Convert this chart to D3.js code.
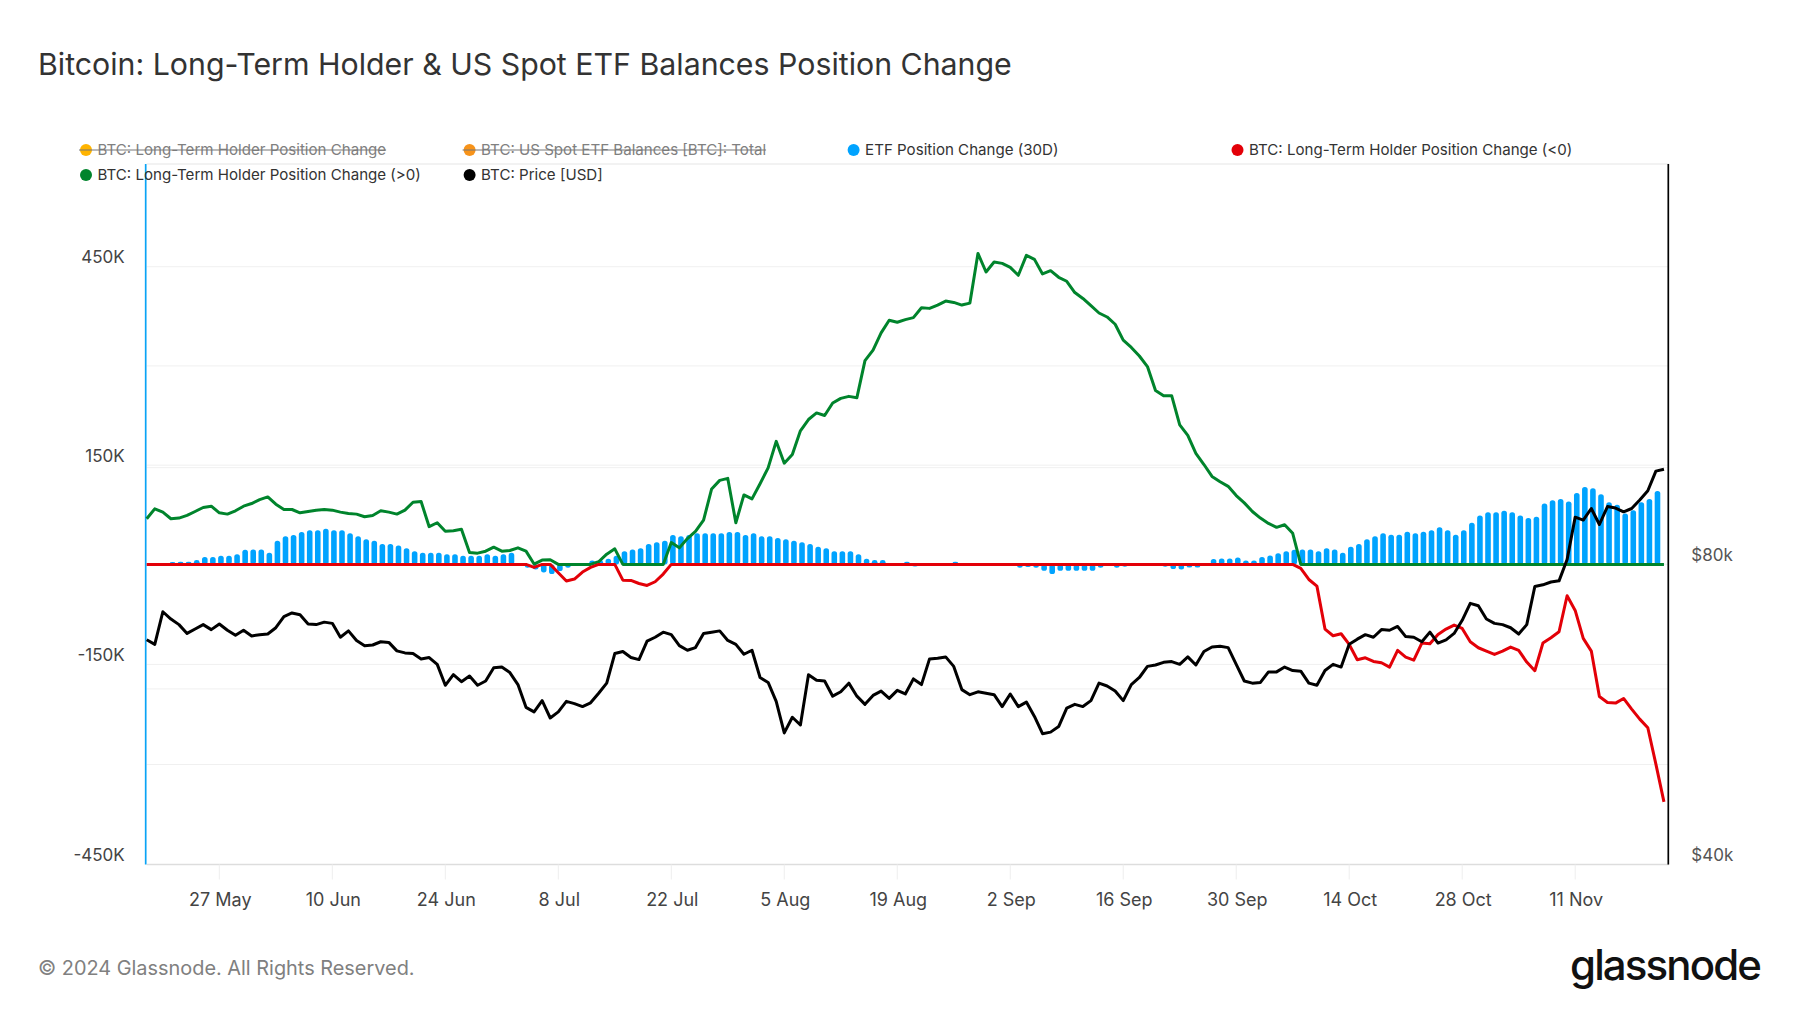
<!DOCTYPE html>
<html>
<head>
<meta charset="utf-8">
<script src="https://cdn.jsdelivr.net/npm/d3@7"></script>
<style>
body { margin: 0; background: #fff; font-family: Inter, sans-serif; }
</style>
</head>
<body>
<div id="chart"></div>
<script>
// one value per day from 18 May, thousands of BTC
var ltsPositive = [
	69,84,79,69,70,74,80,86,88,78,
	76,81,88,92,98,102,91,83,83,78,
	80,82,83,82,79,77,76,72,74,81,
	79,76,82,94,95,57,63,50,51,53,
	18,17,20,26,20,21,25,20,0.5,6.5,
	7,0,0,0,0,0,4,15.5,23.5,0,
	0,0,0,0,0,33,25,39,50,67,
	114,127,130,63,105,99,122,146,186,153,
	166,202,219,229,225,244,251,254,252,308,
	324,350,369,366,370,373,388,387,392,398,
	396,392,395,470,442,457,455,449,437,467,
	461,439,444,434,428,411,402,391,380,374,
	363,339,328,315,299,263,255,255,211,195,
	168,151,133,125,118,104,93,80,70,62,
	56,60,47,0,0,0,0,0,0,0,
	0,0,0,0,0,0,0,0,0,0,
	0,0,0,0,0,0,0,0,0,0,
	0,0,0,0,0,0,0,0,0,0,
	0,0,0,0,0,0,0,0,0
];

var ltsNegative = [
	0,0,0,0,0,0,0,0,0,0,
	0,0,0,0,0,0,0,0,0,0,
	0,0,0,0,0,0,0,0,0,0,
	0,0,0,0,0,0,0,0,0,0,
	0,0,0,0,0,0,0,0,-4.5,0,
	0,-12.5,-25,-22,-11.5,-4.5,0,0,0,-23.6,
	-24,-28.6,-31.6,-26,-14.5,0,0,0,0,0,
	0,0,0,0,0,0,0,0,0,0,
	0,0,0,0,0,0,0,0,0,0,
	0,0,0,0,0,0,0,0,0,0,
	0,0,0,0,0,0,0,0,0,0,
	0,0,0,0,0,0,0,0,0,0,
	0,0,0,0,0,0,0,0,0,0,
	0,0,0,0,0,0,0,0,0,0,
	0,0,0,-6,-22.6,-32.6,-97,-107,-104,-120,
	-143,-140,-145.5,-147.5,-154,-129,-139,-143.5,-118,-119,
	-105,-97,-91,-96,-116,-125,-130,-135,-130,-124,
	-129,-146.5,-159.5,-118,-110,-101,-47,-69,-111,-130,
	-198,-207,-208,-201,-217,-232,-245,-299.5,-356
];

var etfChange = [
	0,0,0,3.5,4,4,6.5,11,11,13,
	13,15.5,22,22.5,22.5,17.5,35.6,42.6,44.6,49,
	51.7,51.7,53.7,51.7,51.7,47,42.6,38,35.6,31,
	31,28.6,24.6,20,17.5,17.5,17.5,15.5,15.5,13,
	13,13,15.5,13,15.5,17.5,0,-5,-7.5,-12,
	-14.5,-10,-5,-2.5,0,6,6.5,8.5,13,20,
	22.5,24.6,31,33.6,35.6,44.6,42.6,44.6,47,47,
	47,47,49,49,44.6,47,42.6,42.6,40,38,
	35.6,33.6,31,26.6,24.6,20,20,20,15.5,8.5,
	6.5,6.5,2,2,4,-3,0,2,2,0,
	4,1,0,0,0,-2.5,0,0,-5,-4,
	-5,-9.5,-14.5,-9.5,-9.5,-9.5,-9.5,-9.5,-5,-2.5,
	-5,-3.5,-1.5,-1.5,0,-2.5,-3.5,-7,-7.5,-4.5,
	-4.5,0,8,9,9,10.5,6,6,11,13.5,
	17,20,22,22.5,22.5,20,24.5,22.5,17.5,26.5,
	31,38,42.5,47,45,45,49.5,47,49.5,51.5,
	56,51.5,45,51.5,63,74,79,79,81,79,
	74,70,72,92,97,99,95,108,117,115,
	106,94,90,77,82,94,99,111,0
];

// thousands of USD
var btcPrice = [
	67.2,66.5,71.7,70.5,69.6,68.2,68.9,69.6,68.8,69.7,
	68.7,67.9,68.7,67.8,68.0,68.1,69.1,70.9,71.5,71.2,
	69.7,69.6,70.0,69.8,67.6,68.6,67.1,66.3,66.4,66.9,
	66.8,65.5,65.2,65.1,64.3,64.5,63.5,60.5,62.0,61.0,
	61.8,60.5,61.1,63.0,63.1,62.3,60.6,57.5,56.9,58.4,
	56.1,56.9,58.3,58.0,57.6,58.1,59.4,60.8,65.1,65.4,
	64.5,64.2,67.0,67.6,68.4,68.0,66.3,65.6,66.0,68.2,
	68.4,68.6,67.1,66.5,65.0,65.6,61.6,60.9,58.3,54.2,
	56.2,55.2,62.0,61.2,61.1,59.0,59.6,60.8,59.0,57.9,
	59.1,59.7,58.7,59.8,59.3,61.4,60.6,64.3,64.4,64.6,
	63.2,59.9,59.2,59.6,59.4,59.2,57.6,59.3,57.6,58.2,
	56.3,54.1,54.3,55.0,57.4,57.9,57.6,58.4,60.8,60.4,
	59.7,58.4,60.6,61.6,63.2,63.4,63.8,63.9,63.5,64.6,
	63.4,65.4,66.1,66.2,66.0,63.5,61.1,60.8,60.9,62.4,
	62.4,63.1,62.6,62.5,60.8,60.5,62.6,63.5,63.1,66.5,
	67.3,68.0,67.6,68.8,68.7,69.3,67.7,67.6,66.9,68.4,
	66.7,67.2,68.2,70.3,73.1,72.7,70.5,69.8,69.6,69.1,
	68.1,69.6,76.0,76.3,76.8,77.0,80.9,89.2,88.6,91.0,
	87.7,91.4,91.1,90.3,91.0,92.8,94.8,99.2,99.65
];

var xTickDates = ["2024-05-27","2024-06-10","2024-06-24","2024-07-08","2024-07-22","2024-08-05","2024-08-19","2024-09-02","2024-09-16","2024-09-30","2024-10-14","2024-10-28","2024-11-11"];
var xTickLabels = ["27 May","10 Jun","24 Jun","8 Jul","22 Jul","5 Aug","19 Aug","2 Sep","16 Sep","30 Sep","14 Oct","28 Oct","11 Nov"];
var leftGrid = [450,300,150,-150,-300];
var leftLabels = [450,150,-150,-450];
var rightGrid = [60,80,100];
var rightLabels = [40,80];

var legendNames = ["BTC: Long-Term Holder Position Change","BTC: US Spot ETF Balances [BTC]: Total","ETF Position Change (30D)","BTC: Long-Term Holder Position Change (<0)","BTC: Long-Term Holder Position Change (>0)","BTC: Price [USD]"];
var legendColors = ["#ffb400","#f7931a","#00a3ff","#e30008","#00842c","#000000"];
var legendOff = [true,true,false,false,false,false];

var width = 1800;
var height = 1013;
var margin = {left: 146.7, right: 1669, top: 164, bottom: 864.5};
var legendX = [86,469.6,853.6,1237.5];
var legendY = [150,175];

var startDate = new Date(Date.UTC(2024,4,18));
var dates = d3.utcDay.range(startDate, new Date(Date.UTC(2024,10,23)));

var x = d3.scaleUtc()
	.domain([startDate, new Date(Date.UTC(2024,10,22,15))])
	.range([margin.left, margin.right]);

// the zero line sits a touch above the middle of the gridlines, so three stops
var y = d3.scaleLinear()
	.domain([-450,0,450,604.6])
	.range([margin.bottom,564.4,266.7,margin.top]);

var yPrice = d3.scaleLog()
	.domain([40,201.6])
	.range([margin.bottom,margin.top]);

var svg = d3.select("#chart")
	.append("svg")
	.attr("width", width)
	.attr("height", height)
	.style("display", "block");

svg.append("text")
	.attr("x", 38)
	.attr("y", 75)
	.attr("font-size", 30.3)
	.attr("fill", "#333")
	.text("Bitcoin: Long-Term Holder & US Spot ETF Balances Position Change");

// gridlines
svg.append("g").selectAll("line")
	.data(leftGrid)
	.join("line")
	.attr("x1", margin.left).attr("x2", margin.right)
	.attr("y1", function(d) { return y(d); })
	.attr("y2", function(d) { return y(d); })
	.attr("stroke", "#f0f0f0");

svg.append("g").selectAll("line")
	.data(rightGrid)
	.join("line")
	.attr("x1", margin.left).attr("x2", margin.right)
	.attr("y1", function(d) { return yPrice(d); })
	.attr("y2", function(d) { return yPrice(d); })
	.attr("stroke", "#f0f0f0");

svg.append("line")
	.attr("x1", margin.left).attr("x2", margin.right)
	.attr("y1", margin.top).attr("y2", margin.top)
	.attr("stroke", "#eee")
	.attr("stroke-width", 1.5);

// axes
var xAxis = d3.axisBottom(x)
	.tickValues(xTickDates.map(function(d) { return new Date(d + "T00:00:00Z"); }))
	.offset(0)
	.tickSizeInner(15)
	.tickSizeOuter(0)
	.tickPadding(13.5)
	.tickFormat(function(d, i) { return xTickLabels[i]; });

var xG = svg.append("g")
	.attr("transform", "translate(0," + margin.bottom + ")")
	.call(xAxis);
xG.select(".domain").attr("stroke", "#ddd").attr("stroke-width", 1.5);
xG.selectAll(".tick line").attr("stroke", "#eee");
xG.selectAll(".tick text").attr("font-size", 18).attr("font-family", "Inter").attr("fill", "#444").attr("dx", 1);

var leftG = svg.append("g")
	.attr("transform", "translate(" + (margin.left - 1) + ",0)")
	.call(d3.axisLeft(y).tickValues(leftLabels).offset(0).tickSize(0).tickPadding(21)
		.tickFormat(function(d) { return d + "K"; }));
leftG.select(".domain").attr("stroke", "#0aa3f5").attr("stroke-width", 1.7);
leftG.selectAll(".tick text").attr("font-size", 17).attr("font-family", "Inter").attr("fill", "#444").attr("dy", "-0.19em");

var rightG = svg.append("g")
	.attr("transform", "translate(" + (margin.right - 0.7) + ",0)")
	.call(d3.axisRight(yPrice).tickValues(rightLabels).offset(0).tickSize(0).tickPadding(23)
		.tickFormat(function(d) { return "$" + d + "k"; }));
rightG.select(".domain").attr("stroke", "#000").attr("stroke-width", 1.7);
rightG.selectAll(".tick text").attr("font-size", 17).attr("font-family", "Inter").attr("fill", "#555").attr("dy", "-0.2em");

// etf bars
var barWidth = 5.6;
svg.append("g").selectAll("rect")
	.data(etfChange)
	.join("rect")
	.attr("x", function(d, i) { return x(dates[i]) + 1.6 - barWidth / 2; })
	.attr("width", barWidth)
	.attr("y", function(d) { return Math.min(y(d), y(0)); })
	.attr("height", function(d) { return Math.abs(y(d) - y(0)); })
	.attr("rx", 2.6)
	.attr("fill", "#00a3ff");

function drawLine(values, yScale, color) {
	var line = d3.line()
		.x(function(d, i) { return x(dates[i]); })
		.y(function(d) { return yScale(d); });
	svg.append("path")
		.datum(values)
		.attr("d", line)
		.attr("fill", "none")
		.attr("stroke", color)
		.attr("stroke-width", 3)
		.attr("stroke-linejoin", "round");
}

drawLine(ltsPositive, y, "#00842c");
drawLine(ltsNegative, y, "#e30008");
drawLine(btcPrice, yPrice, "#000000");

// legend
legendNames.forEach(function(name, i) {
	var lx = legendX[i % 4];
	var ly = legendY[Math.floor(i / 4)];
	var item = svg.append("g");
	item.append("circle")
		.attr("cx", lx).attr("cy", ly).attr("r", 6)
		.attr("fill", legendColors[i]);
	var label = item.append("text")
		.attr("x", lx + 11.5).attr("y", ly + 5.2)
		.attr("font-size", 15.1)
		.attr("fill", legendOff[i] ? "#808080" : "#333")
		.text(name);
	if (legendOff[i]) {
		var w = label.node().getComputedTextLength();
		item.append("line")
			.attr("x1", lx - 7).attr("x2", lx + 11.5 + w)
			.attr("y1", ly).attr("y2", ly)
			.attr("stroke", "#777")
			.attr("stroke-width", 1);
	}
});

// footer
svg.append("text")
	.attr("x", 38)
	.attr("y", 975)
	.attr("font-size", 19.9)
	.attr("fill", "#808080")
	.text("© 2024 Glassnode. All Rights Reserved.");

svg.append("text")
	.attr("x", 1570)
	.attr("y", 979.5)
	.attr("font-size", 42)
	.attr("font-weight", 500)
	.attr("fill", "#111")
	.attr("textLength", 192)
	.text("glassnode");
</script>
</body>
</html>
